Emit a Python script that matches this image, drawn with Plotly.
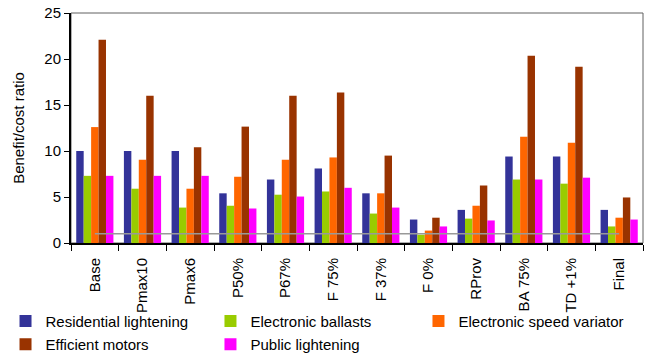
import plotly.graph_objects as go

# Scenarios on the x axis
scenarios = ["Base", "Pmax10", "Pmax6", "P50%", "P67%", "F 75%", "F 37%",
             "F 0%", "RProv", "BA 75%", "TD +1%", "Final"]

# Benefit/cost ratio per measure and scenario
residential_lightening = [10.0, 10.0, 10.0, 5.4, 6.9, 8.1, 5.4, 2.55, 3.6, 9.4, 9.4, 3.6]
electronic_ballasts = [7.3, 5.9, 3.85, 4.05, 5.25, 5.6, 3.2, 0.9, 2.65, 6.9, 6.45, 1.8]
electronic_speed_variator = [12.6, 9.05, 5.9, 7.2, 9.05, 9.3, 5.4, 1.35, 4.05, 11.55, 10.9, 2.75]
efficient_motors = [22.1, 16.0, 10.4, 12.65, 16.0, 16.35, 9.5, 2.75, 6.25, 20.35, 19.15, 4.95]
public_lightening = [7.3, 7.3, 7.3, 3.75, 5.05, 6.0, 3.85, 1.8, 2.45, 6.9, 7.1, 2.55]

# Break-even reference (ratio = 1)
break_even = [1.0] * len(scenarios)

series = [
    ("Residential lightening", residential_lightening, "#333399"),
    ("Electronic ballasts", electronic_ballasts, "#99CC00"),
    ("Electronic speed variator", electronic_speed_variator, "#FF6600"),
    ("Efficient motors", efficient_motors, "#993300"),
    ("Public lightening", public_lightening, "#FF00FF"),
]

font_family = "Liberation Sans, Arial, sans-serif"

# Legend grid below the chart: three columns, two rows (container fractions)
legend_cols = [0.0085, 0.3243, 0.6448]
legend_rows = [0.149, 0.0838]
legend_ids = ["legend", "legend2", "legend3", "legend4", "legend5"]

fig = go.Figure()
for (name, values, color), lid in zip(series, legend_ids):
    fig.add_trace(go.Bar(
        x=scenarios, y=values, name=name, legend=lid,
        marker=dict(color=color, line=dict(width=0)),
    ))

fig.add_trace(go.Scatter(
    x=scenarios, y=break_even, mode="lines",
    line=dict(color="#999999", width=1.5),
    showlegend=False, hoverinfo="skip",
))

legend_layout = {}
for i, lid in enumerate(legend_ids):
    legend_layout[lid] = dict(
        orientation="h",
        xref="container", x=legend_cols[i % 3], xanchor="left",
        yref="container", y=legend_rows[i // 3], yanchor="top",
        font=dict(size=15, family=font_family),
        itemwidth=30, bgcolor="rgba(0,0,0,0)",
    )

fig.update_layout(
    width=649, height=358,
    margin=dict(l=71, r=6, t=13, b=115),
    paper_bgcolor="white", plot_bgcolor="white",
    font=dict(family=font_family, size=15, color="black"),
    barmode="group", bargap=0.22, bargroupgap=0,
    showlegend=True,
    xaxis=dict(
        type="category", showgrid=False, zeroline=False, automargin=False,
        showline=True, linecolor="black", linewidth=2,
        ticks="outside", ticklen=6, tickcolor="black", tickwidth=1,
        tickson="boundaries", tickangle=-90, ticklabelstandoff=7,
        tickfont=dict(size=15, family=font_family),
    ),
    yaxis=dict(
        range=[0, 25], dtick=5, showgrid=False, zeroline=False, automargin=False,
        showline=True, linecolor="black", linewidth=2,
        ticks="outside", ticklen=5, tickcolor="black",
        tickfont=dict(size=15, family=font_family),
        title=dict(text="Benefit/cost ratio", font=dict(size=15, family=font_family), standoff=16),
    ),
    shapes=[dict(
        type="rect", xref="paper", yref="paper", x0=0, x1=1, y0=0, y1=1,
        line=dict(color="#606060", width=1), layer="below",
    )],
    **legend_layout,
)

fig.write_html("out.html")
